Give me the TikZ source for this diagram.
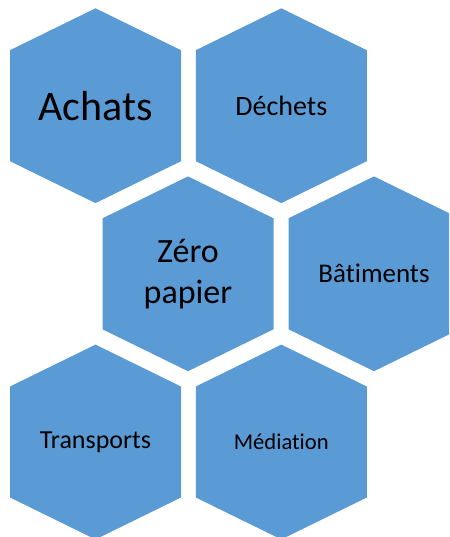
\documentclass[tikz,border=0pt]{standalone}
\usepackage{fontspec}
\setmainfont{Carlito}[Ligatures={NoCommon,NoContextual,NoRequired}]
\definecolor{hexblue}{HTML}{5B9BD5}
\begin{document}
\begin{tikzpicture}[x=1pt, y=-1pt,
    hexfill/.style={fill=hexblue, draw=none},
    hexlabel/.style={text=black, align=center, inner sep=0pt}]
    % Page frame
    \useasboundingbox (0,0) rectangle (449,537);
    \clip (0,0) rectangle (449,537);

    % Hexagons (centre x, centre y)
    \foreach \cx/\cy in {95.5/105.7, 281.3/105.7, 188/273.8, 374/273.8, 95.5/442, 281.3/442} {
        \fill[hexfill] (\cx,\cy-97.4) -- (\cx+85.5,\cy-55.5) -- (\cx+85.5,\cy+55.5)
            -- (\cx,\cy+97.4) -- (\cx-85.5,\cy+55.5) -- (\cx-85.5,\cy-55.5) -- cycle;
    }

    % Labels
    \node[hexlabel, font=\fontsize{42}{48}\selectfont] (achats) at (95.5,105.7) {Achats};
    \node[hexlabel, font=\fontsize{28}{33}\selectfont] (dechets) at (281.3,105.7) {Déchets};
    \node[hexlabel, font=\fontsize{34}{41}\selectfont] (zero) at (188,274.5) {Zéro\\papier};
    \node[hexlabel, font=\fontsize{27}{32}\selectfont] (batiments) at (374,273.8) {Bâtiments};
    \node[hexlabel, font=\fontsize{26}{31}\selectfont] (transports) at (95.5,442) {Transports};
    \node[hexlabel, font=\fontsize{22.6}{27}\selectfont] (mediation) at (281.3,442) {Médiation};
\end{tikzpicture}
\end{document}
